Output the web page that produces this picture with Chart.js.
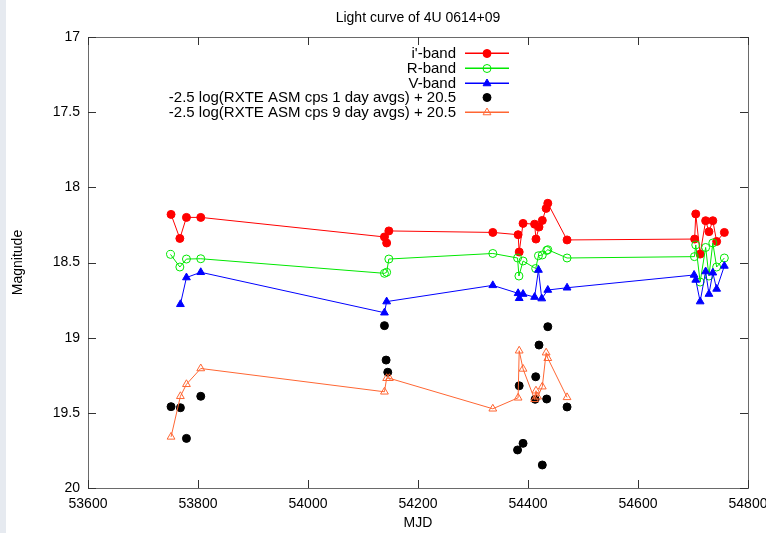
<!DOCTYPE html>
<html>
<head>
<meta charset="utf-8">
<script src="https://cdn.jsdelivr.net/npm/chart.js@4.4.1/dist/chart.umd.min.js"></script>
<style>
  html, body { margin: 0; padding: 0; }
  body { background: linear-gradient(to right, #e6eaf0 0, #e6eaf0 6px, #fff 6px); }
  #wrap { width: 766px; height: 533px; position: relative; }
</style>
</head>
<body>
<div id="wrap"><canvas id="chart"></canvas></div>
<script>
// i'-band
const iMjd = [53751, 53767, 53779, 53805, 54139, 54143, 54147, 54336, 54382, 54384, 54391, 54412, 54414.5, 54420, 54426, 54433, 54436, 54471, 54703, 54705, 54713, 54723, 54729, 54736, 54743, 54757];
const iMag = [18.18, 18.34, 18.20, 18.20, 18.33, 18.37, 18.29, 18.30, 18.315, 18.43, 18.24, 18.245, 18.344, 18.264, 18.22, 18.14, 18.106, 18.35, 18.344, 18.177, 18.444, 18.222, 18.295, 18.222, 18.36, 18.30];
// R-band
const rMjd = [53750, 53767, 53779, 53805, 54139, 54143, 54147, 54336, 54381, 54383.5, 54391, 54414, 54419, 54426, 54434, 54436, 54471, 54702.6, 54705, 54713, 54723, 54729, 54736, 54743, 54757];
const rMag = [18.446, 18.53, 18.477, 18.475, 18.572, 18.565, 18.477, 18.44, 18.47, 18.59, 18.49, 18.54, 18.455, 18.45, 18.42, 18.415, 18.47, 18.461, 18.383, 18.63, 18.40, 18.59, 18.37, 18.53, 18.47];
// V-band
const vMjd = [53768, 53779, 53805, 54139, 54143, 54336, 54382, 54384, 54391, 54412, 54419, 54425, 54436, 54471, 54702, 54705, 54713, 54723, 54729, 54736, 54743, 54757];
const vMag = [18.778, 18.60, 18.565, 18.834, 18.76, 18.652, 18.705, 18.738, 18.71, 18.73, 18.55, 18.74, 18.683, 18.668, 18.583, 18.616, 18.76, 18.56, 18.71, 18.568, 18.676, 18.523];
// RXTE ASM 1 day avgs
const d1Mjd = [53751, 53768, 53779, 53805, 54139, 54142, 54145, 54381, 54384, 54391, 54413, 54414, 54420, 54426, 54434, 54436, 54471];
const d1Mag = [19.459, 19.466, 19.67, 19.39, 18.92, 19.149, 19.23, 19.747, 19.32, 19.703, 19.41, 19.26, 19.049, 19.847, 19.408, 18.927, 19.461];
// RXTE ASM 9 day avgs
const d9Mjd = [53751, 53768, 53779, 53805, 54139, 54143, 54148, 54336, 54382, 54384, 54391, 54412, 54414.5, 54417.5, 54426, 54433, 54436, 54471];
const d9Mag = [19.66, 19.39, 19.31, 19.205, 19.36, 19.27, 19.27, 19.473, 19.40, 19.087, 19.208, 19.41, 19.353, 19.393, 19.326, 19.10, 19.137, 19.397];

const xTicks = [53600, 53800, 54000, 54200, 54400, 54600, 54800];
const yTicks = [17, 17.5, 18, 18.5, 19, 19.5, 20];

const RED = '#ff0000', GREEN = '#00e800', BLUE = '#0000ff', BLACK = '#000000', ORANGE = '#ff6633';
const keyColors = [RED, GREEN, BLUE, null, ORANGE];

const pts = (xs, ys) => xs.map((x, k) => ({ x: x, y: ys[k] }));
const FONT = '"Liberation Sans", Arial, Helvetica, sans-serif';

// gnuplot style frame, inward ticks, labels and key
const frame = {
  id: 'frame',
  afterDraw(chart) {
    const ctx = chart.ctx;
    const a = chart.chartArea;
    const xs = chart.scales.x, ys = chart.scales.y;
    ctx.save();
    ctx.strokeStyle = '#6a6a6a';
    ctx.lineWidth = 1;
    ctx.strokeRect(a.left + 0.5, a.top + 0.5, a.right - a.left, a.bottom - a.top);
    ctx.strokeStyle = '#333';
    ctx.beginPath();
    xTicks.forEach(v => {
      const p = Math.round(xs.getPixelForValue(v)) + 0.5;
      ctx.moveTo(p, a.bottom); ctx.lineTo(p, a.bottom - 8);
      ctx.moveTo(p, a.top); ctx.lineTo(p, a.top + 8);
    });
    yTicks.forEach(v => {
      const p = Math.round(ys.getPixelForValue(v)) + 0.5;
      ctx.moveTo(a.left, p); ctx.lineTo(a.left + 8, p);
      ctx.moveTo(a.right, p); ctx.lineTo(a.right - 8, p);
    });
    ctx.stroke();

    ctx.fillStyle = '#000';
    ctx.font = '14px ' + FONT;
    ctx.textBaseline = 'middle';
    ctx.textAlign = 'center';
    xTicks.forEach(v => ctx.fillText(String(v), xs.getPixelForValue(v), a.bottom + 16));
    ctx.textAlign = 'right';
    yTicks.forEach(v => ctx.fillText(String(v), a.left - 8, ys.getPixelForValue(v)));

    ctx.textAlign = 'center';
    ctx.fillText('MJD', (a.left + a.right) / 2, a.bottom + 35);
    ctx.fillText('Light curve of 4U 0614+09', (a.left + a.right) / 2, 18);
    ctx.save();
    ctx.translate(18, (a.top + a.bottom) / 2);
    ctx.rotate(-Math.PI / 2);
    ctx.fillText('Magnitude', 0, 0);
    ctx.restore();

    // key: sample line first, then text, then marker
    ctx.font = '15px ' + FONT;
    chart.data.datasets.forEach((ds, k) => {
      const yi = Math.round(53 + k * 14.8);
      const tx = 456, l0 = 465, l1 = 509, mx = 487;
      if (keyColors[k]) {
        ctx.strokeStyle = keyColors[k];
        ctx.lineWidth = 1.5;
        ctx.beginPath();
        ctx.moveTo(l0, yi + 0.25);
        ctx.lineTo(l1, yi + 0.25);
        ctx.stroke();
      }
      ctx.fillStyle = '#000';
      ctx.textAlign = 'right';
      ctx.fillText(ds.label, tx, yi + 0.5);
      ctx.strokeStyle = ds.pointBorderColor;
      ctx.fillStyle = ds.pointBackgroundColor;
      ctx.lineWidth = 1;
      Chart.helpers.drawPoint(ctx, { pointStyle: ds.pointStyle, radius: ds.pointRadius, rotation: 0, borderWidth: 1 }, mx, yi + 0.5);
    });
    ctx.restore();
  }
};

new Chart(document.getElementById('chart'), {
  type: 'scatter',
  data: {
    datasets: [{
      label: "i'-band",
      data: pts(iMjd, iMag),
      showLine: true,
      borderColor: RED,
      borderWidth: 1,
      pointStyle: 'circle',
      pointRadius: 4,
      pointBackgroundColor: RED,
      pointBorderColor: RED,
      pointBorderWidth: 1,
      order: 5
    }, {
      label: 'R-band',
      data: pts(rMjd, rMag),
      showLine: true,
      borderColor: GREEN,
      borderWidth: 1,
      pointStyle: 'circle',
      pointRadius: 4,
      pointBackgroundColor: 'rgba(255,255,255,0)',
      pointBorderColor: GREEN,
      pointBorderWidth: 1,
      order: 4
    }, {
      label: 'V-band',
      data: pts(vMjd, vMag),
      showLine: true,
      borderColor: BLUE,
      borderWidth: 1,
      pointStyle: 'triangle',
      pointRadius: 4.5,
      pointBackgroundColor: BLUE,
      pointBorderColor: BLUE,
      pointBorderWidth: 1,
      order: 3
    }, {
      label: '-2.5 log(RXTE ASM cps 1 day avgs) + 20.5',
      data: pts(d1Mjd, d1Mag),
      showLine: false,
      borderColor: BLACK,
      pointStyle: 'circle',
      pointRadius: 4,
      pointBackgroundColor: BLACK,
      pointBorderColor: BLACK,
      pointBorderWidth: 1,
      order: 2
    }, {
      label: '-2.5 log(RXTE ASM cps 9 day avgs) + 20.5',
      data: pts(d9Mjd, d9Mag),
      showLine: true,
      borderColor: ORANGE,
      borderWidth: 1,
      pointStyle: 'triangle',
      pointRadius: 4.5,
      pointBackgroundColor: 'rgba(255,255,255,0)',
      pointBorderColor: ORANGE,
      pointBorderWidth: 1,
      order: 1
    }]
  },
  options: {
    responsive: true,
    maintainAspectRatio: false,
    animation: false,
    layout: { padding: { left: 88, right: 18, top: 37, bottom: 45 } },
    scales: {
      x: { type: 'linear', min: 53600, max: 54800, display: false },
      y: { type: 'linear', min: 17, max: 20, reverse: true, display: false }
    },
    plugins: {
      legend: { display: false },
      title: { display: false },
      tooltip: { enabled: false }
    }
  },
  plugins: [frame]
});
</script>
</body>
</html>
